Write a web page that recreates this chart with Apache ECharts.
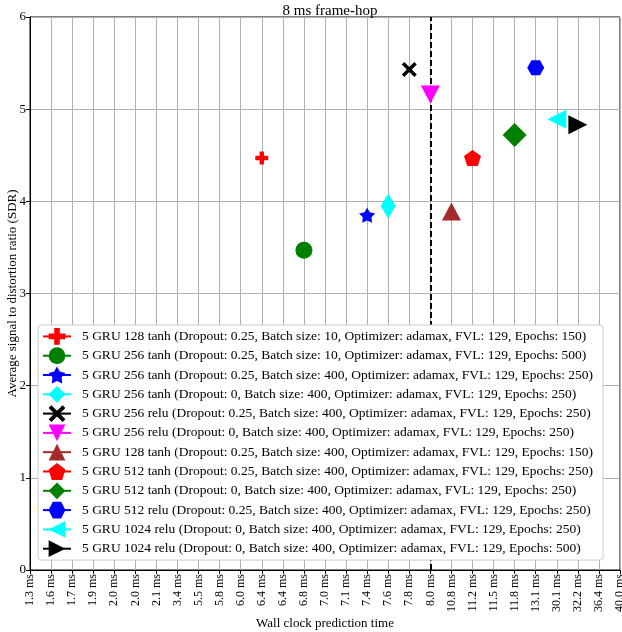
<!DOCTYPE html>
<html>
<head>
<meta charset="utf-8">
<script src="https://cdn.jsdelivr.net/npm/echarts@6/dist/echarts.min.js"></script>
<style>html,body{margin:0;padding:0;background:#fff}#c{width:622px;height:632px}</style>
</head>
<body>
<div id="c"></div>
<script>
const categories = ['1.3 ms','1.6 ms','1.7 ms','1.9 ms','2.0 ms','2.0 ms','2.1 ms','3.4 ms','5.5 ms','5.8 ms','6.0 ms','6.4 ms','6.4 ms','6.8 ms','7.0 ms','7.1 ms','7.4 ms','7.6 ms','7.8 ms','8.0 ms','10.8 ms','11.2 ms','11.5 ms','11.8 ms','13.1 ms','30.1 ms','32.2 ms','36.4 ms','40.0 ms'];
const seriesNames = [
  '5 GRU 128 tanh (Dropout: 0.25, Batch size: 10, Optimizer: adamax, FVL: 129, Epochs: 150)',
  '5 GRU 256 tanh (Dropout: 0.25, Batch size: 10, Optimizer: adamax, FVL: 129, Epochs: 500)',
  '5 GRU 256 tanh (Dropout: 0.25, Batch size: 400, Optimizer: adamax, FVL: 129, Epochs: 250)',
  '5 GRU 256 tanh (Dropout: 0, Batch size: 400, Optimizer: adamax, FVL: 129, Epochs: 250)',
  '5 GRU 256 relu (Dropout: 0.25, Batch size: 400, Optimizer: adamax, FVL: 129, Epochs: 250)',
  '5 GRU 256 relu (Dropout: 0, Batch size: 400, Optimizer: adamax, FVL: 129, Epochs: 250)',
  '5 GRU 128 tanh (Dropout: 0.25, Batch size: 400, Optimizer: adamax, FVL: 129, Epochs: 150)',
  '5 GRU 512 tanh (Dropout: 0.25, Batch size: 400, Optimizer: adamax, FVL: 129, Epochs: 250)',
  '5 GRU 512 tanh (Dropout: 0, Batch size: 400, Optimizer: adamax, FVL: 129, Epochs: 250)',
  '5 GRU 512 relu (Dropout: 0.25, Batch size: 400, Optimizer: adamax, FVL: 129, Epochs: 250)',
  '5 GRU 1024 relu (Dropout: 0, Batch size: 400, Optimizer: adamax, FVL: 129, Epochs: 250)',
  '5 GRU 1024 relu (Dropout: 0, Batch size: 400, Optimizer: adamax, FVL: 129, Epochs: 500)'
];
const seriesTimes = ['6.4 ms','6.8 ms','7.4 ms','7.6 ms','7.8 ms','8.0 ms','10.8 ms','11.2 ms','11.8 ms','13.1 ms','30.1 ms','32.2 ms'];
const seriesSDR = [4.47, 3.47, 3.85, 3.95, 5.43, 5.16, 3.89, 4.47, 4.72, 5.45, 4.89, 4.83];
const yTicks = [0, 1, 2, 3, 4, 5, 6];
const frameHopLine = '8.0 ms';

const colors = ['#ff0000','#008000','#0000ff','#00ffff','#000000','#ff00ff','#a52a2a','#ff0000','#008000','#0000ff','#00ffff','#000000'];
const symbols = [
  'path://M4,0H8V4H12V8H8V12H4V8H0V4H4Z',
  'circle',
  'path://M50,0L66,27L97.6,34.5L76,58L79.4,90.5L50,77L20.6,90.5L24,58L2.4,34.5L34,27Z',
  'diamond',
  'path://M0,2L2,0L6,4L10,0L12,2L8,6L12,10L10,12L6,8L2,12L0,10L4,6Z',
  'path://M0,0H2L1,2Z',
  'triangle',
  'path://M50,0L97.6,34.5L79.4,90.5L20.6,90.5L2.4,34.5Z',
  'diamond',
  'path://M0,50L25,6.7L75,6.7L100,50L75,93.3L25,93.3Z',
  'path://M0,1L2,0V2Z',
  'path://M0,0L2,1L0,2Z'
];
const sizes = [[13,13],[17,17],[16,15],[15,25],[15,15],[19,18],[19,18],[17,16],[24,24],[17,15],[19,19],[19,19]];

const FONT = 'Liberation Serif';
const series = seriesNames.map((n, i) => ({
  name: n,
  type: 'line',
  data: [[categories.indexOf(seriesTimes[i]), seriesSDR[i]]],
  symbol: symbols[i],
  symbolSize: sizes[i],
  itemStyle: { color: colors[i] },
  lineStyle: { color: colors[i], width: 1 },
  z: 5
}));
series.push({
  name: '__vline',
  type: 'line',
  data: [],
  silent: true,
  markLine: {
    symbol: 'none',
    silent: true,
    label: { show: false },
    lineStyle: { color: '#000', type: [6, 3], width: 2 },
    data: [{ xAxis: categories.indexOf(frameHopLine) }]
  },
  z: 3
});

const chart = echarts.init(document.getElementById('c'));
chart.setOption({
  animation: false,
  textStyle: { fontFamily: FONT },
  title: {
    text: '8 ms frame-hop', left: 325, top: -1, textAlign: 'center',
    textStyle: { fontFamily: FONT, fontSize: 15, fontWeight: 'normal', color: '#000' }
  },
  grid: { left: 30, right: 2, top: 17, bottom: 62, show: true, borderColor: '#000', borderWidth: 1, containLabel: false, outerBoundsMode: 'none' },
  legend: {
    data: seriesNames,
    orient: 'vertical',
    left: 38, top: 325,
    z: 20,
    itemWidth: 28, itemHeight: 21, itemGap: 2.5,
    padding: [3, 10, 3, 4],
    backgroundColor: '#ffffff',
    borderColor: '#cccccc', borderWidth: 1, borderRadius: 3,
    textStyle: { fontFamily: FONT, fontSize: 13.5, color: '#000', padding: [0, 0, 0, 6] }
  },
  xAxis: {
    type: 'category',
    data: categories,
    boundaryGap: false,
    name: 'Wall clock prediction time',
    nameLocation: 'middle', nameGap: 47, nameMoveOverlap: false,
    nameTextStyle: { fontFamily: FONT, fontSize: 13, color: '#000' },
    axisLine: { lineStyle: { color: '#000', width: 1 } },
    axisTick: { show: true, alignWithLabel: true, interval: 0, length: 4, lineStyle: { color: '#000' } },
    axisLabel: { interval: 0, rotate: 90, fontFamily: FONT, fontSize: 12, color: '#000', margin: 4 },
    splitLine: { show: true, interval: 0, lineStyle: { color: '#b0b0b0', width: 1 } }
  },
  yAxis: {
    type: 'value',
    min: yTicks[0], max: yTicks[yTicks.length - 1], interval: 1,
    name: 'Average signal to distortion ratio (SDR)',
    nameLocation: 'middle', nameGap: 11, nameMoveOverlap: false,
    nameTextStyle: { fontFamily: FONT, fontSize: 13, color: '#000' },
    axisLine: { show: true, lineStyle: { color: '#000', width: 1 } },
    axisTick: { show: true, length: 4, lineStyle: { color: '#000' } },
    axisLabel: { fontFamily: FONT, fontSize: 13, color: '#000', margin: 4 },
    splitLine: { show: true, lineStyle: { color: '#b0b0b0', width: 1 } }
  },
  series: series
});
</script>
</body>
</html>
